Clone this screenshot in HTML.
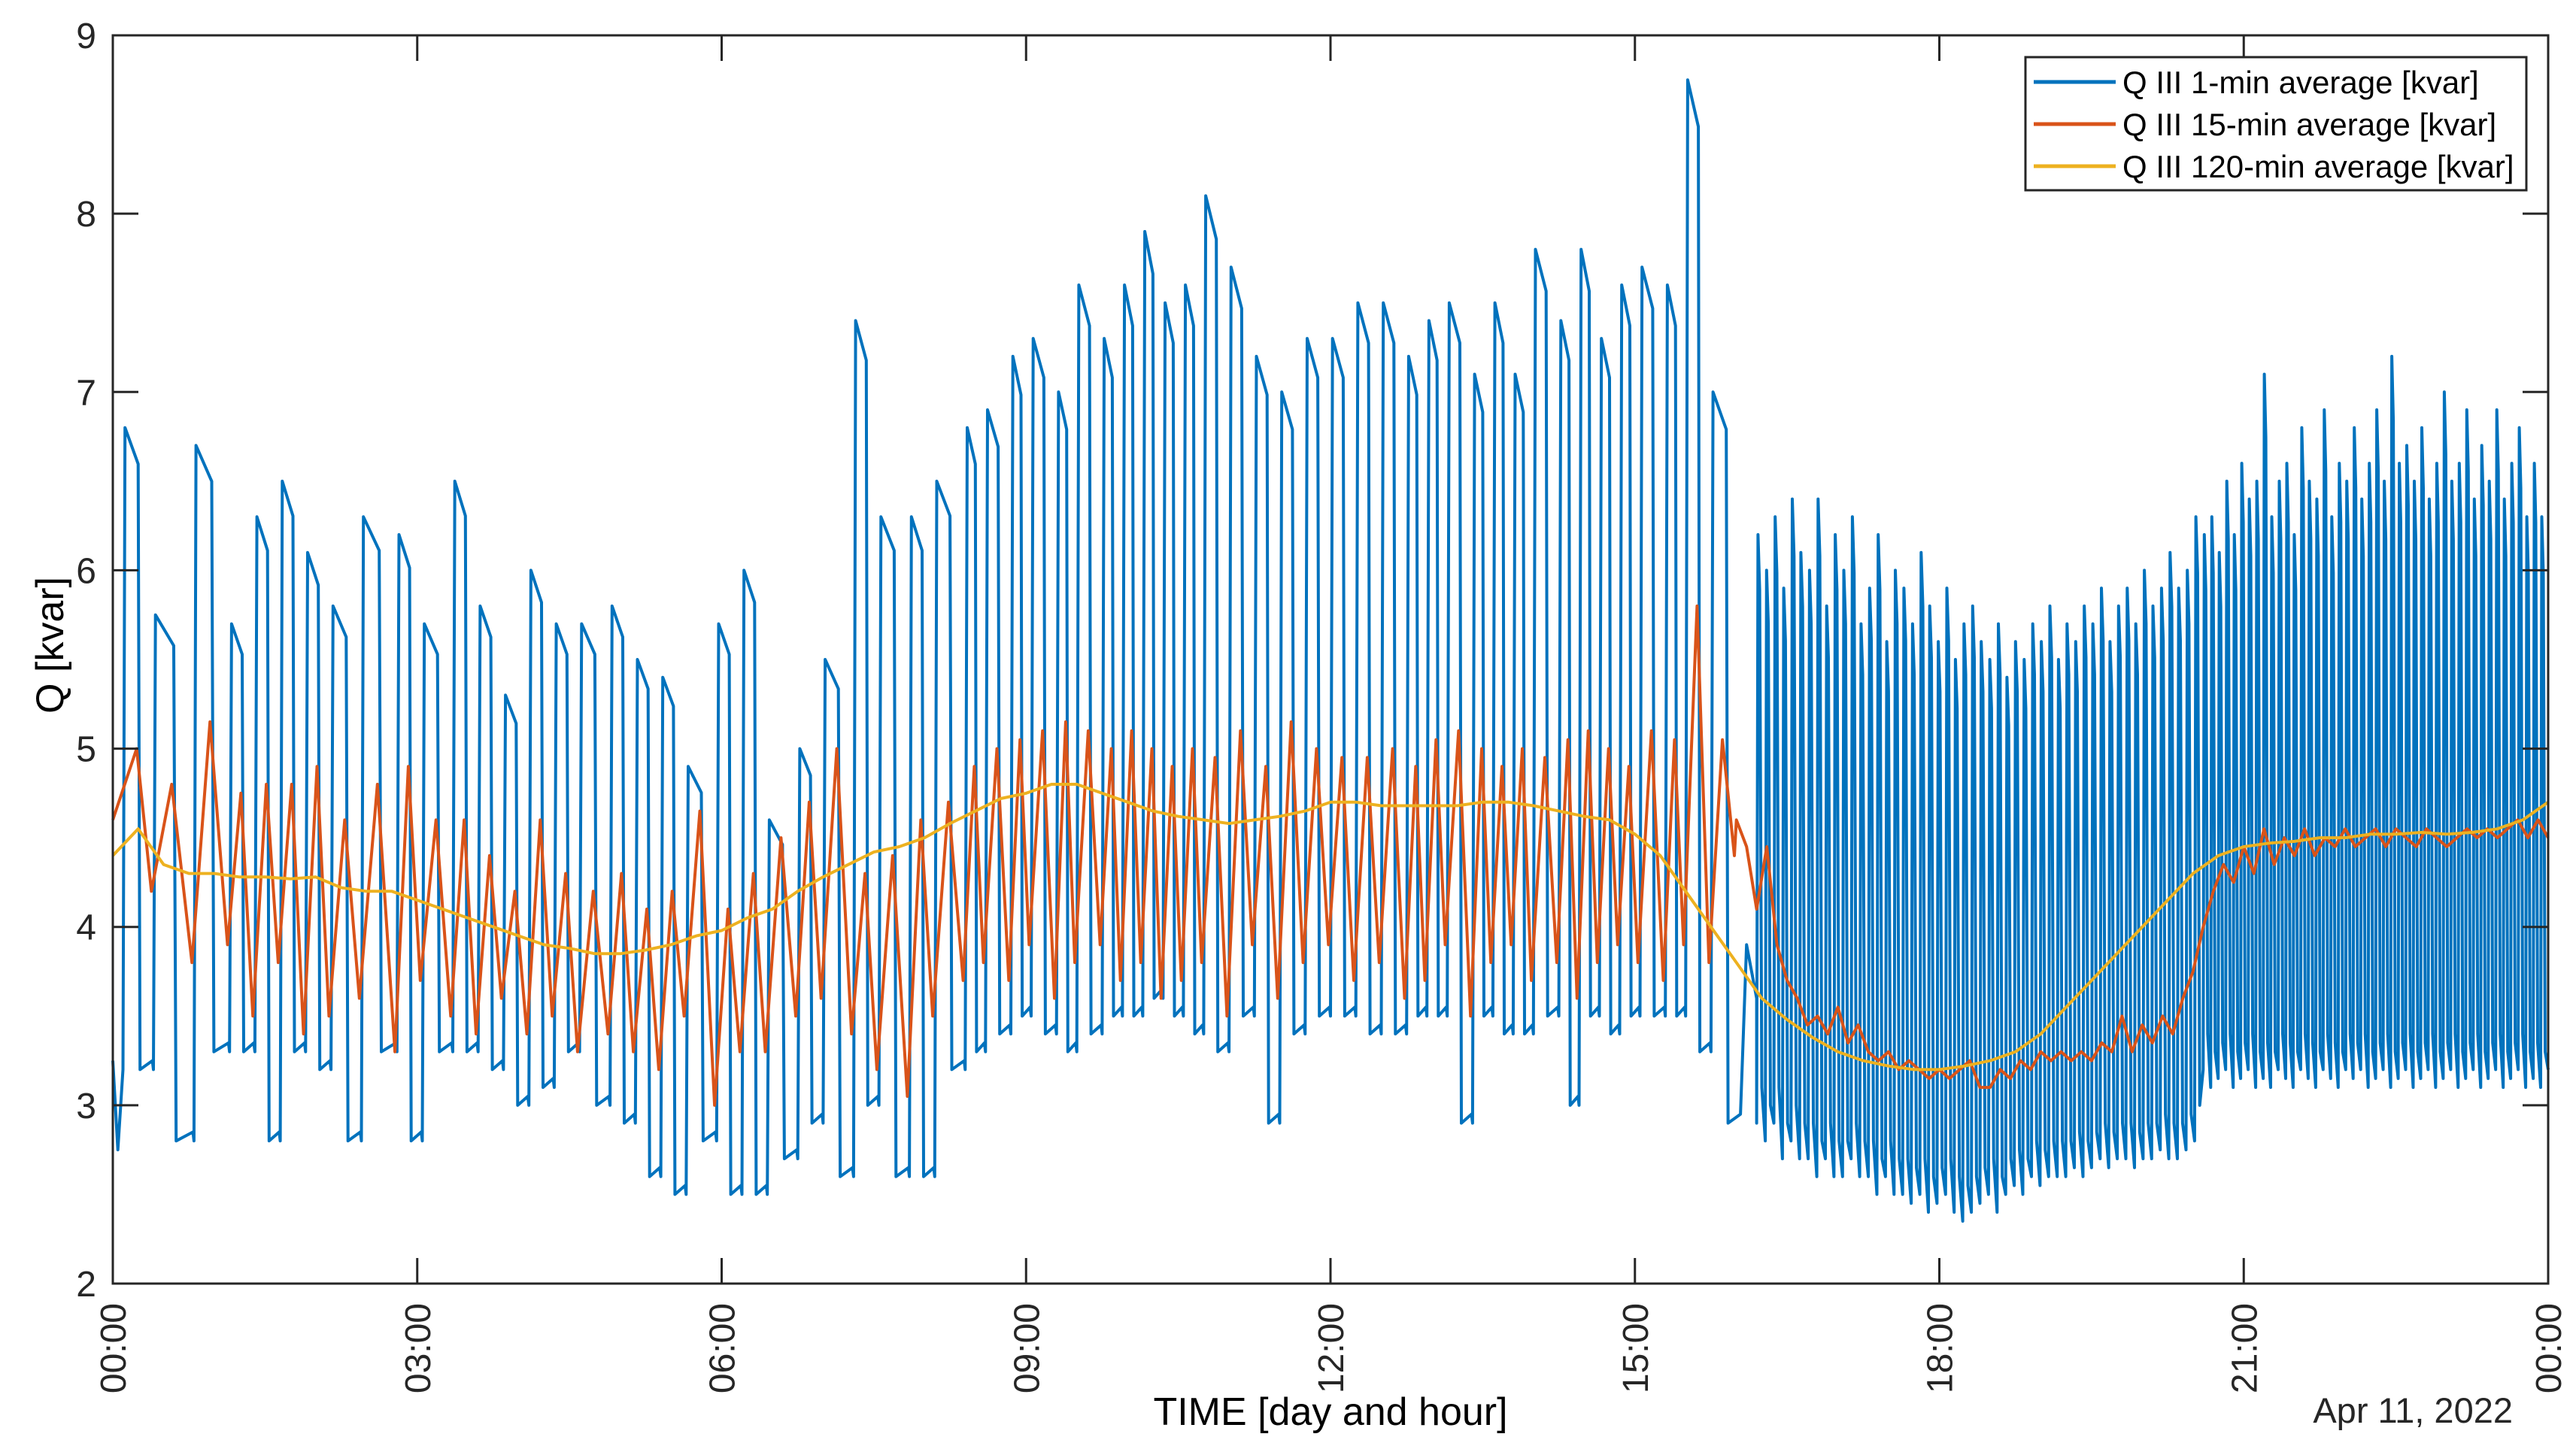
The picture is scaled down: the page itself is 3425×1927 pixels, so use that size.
<!DOCTYPE html>
<html><head><meta charset="utf-8"><style>
html,body{margin:0;padding:0;background:#fff;}
svg{display:block;font-family:"Liberation Sans",Arial,sans-serif;}
</style></head><body>
<svg id="chart" width="3425" height="1927" viewBox="0 0 3425 1927" xmlns="http://www.w3.org/2000/svg">
<rect x="0" y="0" width="3425" height="1927" fill="#fff"/>
<g id="plot"></g>
<g id="axes"></g>
<text x="1769" y="1895" font-size="52" text-anchor="middle" fill="#000">TIME [day and hour]</text>
<text x="3341" y="1892" font-size="47" text-anchor="end" fill="#262626">Apr 11, 2022</text>
<text transform="translate(84,858) rotate(-90)" font-size="52" text-anchor="middle" fill="#000">Q [kvar]</text>
<g>
<rect x="2693" y="76" width="666" height="177" fill="#fff" stroke="#262626" stroke-width="3"/>
<line x1="2704" y1="109" x2="2813" y2="109" stroke="#0072BD" stroke-width="5"/>
<text x="2822" y="124" font-size="42" fill="#000">Q III 1-min average [kvar]</text>
<line x1="2704" y1="165" x2="2813" y2="165" stroke="#D95319" stroke-width="5"/>
<text x="2822" y="180" font-size="42" fill="#000">Q III 15-min average [kvar]</text>
<line x1="2704" y1="221" x2="2813" y2="221" stroke="#EDB120" stroke-width="5"/>
<text x="2822" y="236" font-size="42" fill="#000">Q III 120-min average [kvar]</text>
</g>
</svg>
<script>
// ---- data ----
const xTickLabels = ["00:00","03:00","06:00","09:00","12:00","15:00","18:00","21:00","00:00"];
const yTickLabels = ["2","3","4","5","6","7","8","9"];
// Segment A: slow cycles (hours)
const cycleStart = [0.1,0.4,0.8,1.15,1.4,1.65,1.9,2.15,2.45,2.8,3.05,3.35,3.6,3.85,4.1,4.35,4.6,4.9,5.15,5.4,5.65,5.95,6.2,6.45,6.75,7.0,7.3,7.55,7.85,8.1,8.4,8.6,8.85,9.05,9.3,9.5,9.75,9.95,10.15,10.35,10.55,10.75,11.0,11.25,11.5,11.75,12.0,12.25,12.5,12.75,12.95,13.15,13.4,13.6,13.8,14.0,14.25,14.45,14.65,14.85,15.05,15.3,15.5,15.75];
const cycleHigh = [6.8,5.75,6.7,5.7,6.3,6.5,6.1,5.8,6.3,6.2,5.7,6.5,5.8,5.3,6.0,5.7,5.7,5.8,5.5,5.4,4.9,5.7,6.0,4.6,5.0,5.5,7.4,6.3,6.3,6.5,6.8,6.9,7.2,7.3,7.0,7.6,7.3,7.6,7.9,7.5,7.6,8.1,7.7,7.2,7.0,7.3,7.3,7.5,7.5,7.2,7.4,7.5,7.1,7.5,7.1,7.8,7.4,7.8,7.3,7.6,7.7,7.6,8.75,7.0];
const cycleLow = [3.2,2.8,3.3,3.3,2.8,3.3,3.2,2.8,3.3,2.8,3.3,3.3,3.2,3.0,3.1,3.3,3.0,2.9,2.6,2.5,2.8,2.5,2.5,2.7,2.9,2.6,3.0,2.6,2.6,3.2,3.3,3.4,3.5,3.4,3.3,3.4,3.5,3.5,3.6,3.5,3.4,3.3,3.5,2.9,3.4,3.5,3.5,3.4,3.4,3.5,3.5,2.9,3.5,3.4,3.4,3.5,3.0,3.5,3.4,3.5,3.5,3.5,3.3,2.9];
const orangePeak = [5.0,4.8,5.15,4.75,4.8,4.8,4.9,4.6,4.8,4.9,4.6,4.6,4.4,4.2,4.6,4.3,4.2,4.3,4.1,4.2,4.65,4.1,4.3,4.5,4.7,5.0,4.3,4.4,4.6,4.7,4.9,5.0,5.05,5.1,5.15,5.1,5.0,5.1,5.0,4.9,5.0,4.95,5.1,4.9,5.15,5.0,4.95,4.95,5.0,4.9,5.05,5.1,5.0,4.9,5.0,4.95,5.05,5.1,5.0,4.9,5.1,5.05,5.8,5.05];
const orangeTrough = [4.2,3.8,3.9,3.5,3.8,3.4,3.5,3.6,3.3,3.7,3.5,3.4,3.6,3.4,3.5,3.3,3.4,3.3,3.2,3.5,3.0,3.3,3.3,3.5,3.6,3.4,3.2,3.05,3.5,3.7,3.8,3.7,3.9,3.6,3.8,3.9,3.7,3.8,3.6,3.7,3.8,3.5,3.9,3.6,3.8,3.9,3.7,3.8,3.6,3.7,3.9,3.5,3.8,3.9,3.7,3.8,3.6,3.8,3.9,3.8,3.7,3.9,3.8,4.4];
// Segment B: fast spikes 16.2h-20.6h
const spikeBHigh = [6.2,6.0,6.3,5.9,6.4,6.1,6.0,6.4,5.8,6.2,6.0,6.3,5.7,5.9,6.2,5.6,6.0,5.9,5.7,6.1,5.8,5.6,5.9,5.5,5.7,5.8,5.6,5.5,5.7,5.4,5.6,5.5,5.7,5.6,5.8,5.5,5.7,5.6,5.8,5.7,5.9,5.6,5.8,5.9,5.7,6.0,5.8,5.9,6.1,5.9,6.0,6.3];
const spikeBLow = [2.9,2.8,2.9,2.7,2.8,2.7,2.7,2.6,2.7,2.6,2.6,2.7,2.6,2.6,2.5,2.6,2.5,2.5,2.45,2.5,2.4,2.45,2.5,2.4,2.35,2.4,2.45,2.5,2.4,2.5,2.55,2.5,2.6,2.55,2.6,2.6,2.6,2.65,2.6,2.65,2.7,2.65,2.7,2.7,2.65,2.7,2.7,2.75,2.7,2.7,2.75,2.8];
// Segment C: fast spikes 20.6h-24h
const spikeCHigh = [6.2,6.3,6.1,6.5,6.2,6.6,6.4,6.5,7.1,6.3,6.5,6.6,6.2,6.8,6.5,6.4,6.9,6.3,6.6,6.5,6.8,6.4,6.6,6.9,6.5,7.2,6.6,6.7,6.5,6.8,6.4,6.6,7.0,6.5,6.6,6.9,6.4,6.7,6.5,6.9,6.4,6.6,6.8,6.3,6.6,6.3];
const spikeCLow = [3.2,3.1,3.15,3.2,3.1,3.15,3.2,3.1,3.15,3.1,3.2,3.15,3.1,3.2,3.15,3.1,3.2,3.15,3.1,3.2,3.15,3.2,3.1,3.15,3.2,3.1,3.15,3.2,3.1,3.15,3.2,3.1,3.15,3.2,3.1,3.15,3.2,3.1,3.15,3.2,3.1,3.15,3.2,3.1,3.15,3.1];
// Orange after 16h, every 0.1h
const orangeLateStart = 16.0;
const orangeLate = [4.6,4.45,4.1,4.45,3.9,3.7,3.6,3.45,3.5,3.4,3.55,3.35,3.45,3.3,3.25,3.3,3.2,3.25,3.2,3.15,3.2,3.15,3.2,3.25,3.1,3.1,3.2,3.15,3.25,3.2,3.3,3.25,3.3,3.25,3.3,3.25,3.35,3.3,3.5,3.3,3.45,3.35,3.5,3.4,3.6,3.75,4.0,4.2,4.35,4.25,4.45,4.3,4.55,4.35,4.5,4.4,4.55,4.4,4.5,4.45,4.55,4.45,4.5,4.55,4.45,4.55,4.5,4.45,4.55,4.5,4.45,4.5,4.55,4.5,4.55,4.5,4.55,4.6,4.5,4.6,4.5];
// Yellow 120-min average every 0.25h
const yellowVals = [4.4,4.55,4.35,4.3,4.3,4.28,4.28,4.27,4.28,4.22,4.2,4.2,4.15,4.1,4.05,4.0,3.95,3.9,3.88,3.85,3.85,3.87,3.9,3.95,3.98,4.05,4.1,4.2,4.28,4.35,4.42,4.45,4.5,4.58,4.65,4.72,4.75,4.8,4.8,4.75,4.7,4.65,4.62,4.6,4.58,4.6,4.62,4.65,4.7,4.7,4.68,4.68,4.68,4.68,4.7,4.7,4.68,4.65,4.62,4.6,4.52,4.4,4.2,4.0,3.8,3.6,3.48,3.38,3.3,3.25,3.22,3.2,3.2,3.22,3.25,3.3,3.4,3.55,3.7,3.85,4.0,4.15,4.3,4.4,4.45,4.47,4.48,4.5,4.5,4.52,4.52,4.53,4.52,4.53,4.55,4.6,4.7];

// ---- axes functions ----
const X0=150, X1=3388, Y0=1707, Y1=47;
const xs = h => X0 + (h/24)*(X1-X0);
const ys = v => Y0 - (v-2)/7*(Y0-Y1);
const NS="http://www.w3.org/2000/svg";
const plot=document.getElementById('plot'), axes=document.getElementById('axes');
function mk(tag, attrs, parent){const e=document.createElementNS(NS,tag);for(const k in attrs)e.setAttribute(k,attrs[k]);parent.appendChild(e);return e;}
function pathOf(pts){return pts.map((p,i)=>(i?'L':'M')+xs(p[0]).toFixed(1)+' '+ys(p[1]).toFixed(1)).join('');}

// blue
const blue=[[0,3.25],[0.05,2.75]];
for(let i=0;i<cycleStart.length;i++){
  const s=cycleStart[i], e=(i+1<cycleStart.length)?cycleStart[i+1]:16.05, p=e-s;
  blue.push([s,cycleLow[Math.max(0,i-1)]],[s+0.02,cycleHigh[i]],[s+0.5*p,cycleHigh[i]*0.97],[s+0.56*p,cycleLow[i]],[e-0.01,cycleLow[i]+0.05]);
}
blue.push([16.1,3.9],[16.2,3.6]);
const pB=(20.6-16.2)/spikeBHigh.length;
for(let i=0;i<spikeBHigh.length;i++){const s=16.2+i*pB;blue.push([s,spikeBLow[i]],[s+0.15*pB,spikeBHigh[i]],[s+0.35*pB,spikeBHigh[i]*0.95],[s+0.6*pB,spikeBLow[i]+0.2]);}
const pC=(24-20.6)/spikeCHigh.length;
for(let i=0;i<spikeCHigh.length;i++){const s=20.6+i*pC;blue.push([s,spikeCLow[i]],[s+0.15*pC,spikeCHigh[i]],[s+0.35*pC,spikeCHigh[i]*0.95],[s+0.6*pC,spikeCLow[i]+0.2]);}
blue.push([24,3.2]);
let el=mk('path',{d:pathOf(blue),fill:'none',stroke:'#0072BD','stroke-width':4,'stroke-linejoin':'round'},plot);



// orange
const orange=[[0,4.6]];
for(let i=0;i<cycleStart.length;i++){
  const s=cycleStart[i], e=(i+1<cycleStart.length)?cycleStart[i+1]:16.0, p=e-s;
  orange.push([s+0.45*p,orangePeak[i]],[e-0.02,orangeTrough[i]]);
}
orangeLate.forEach((v,i)=>orange.push([orangeLateStart+i*0.1,v]));
el=mk('path',{d:pathOf(orange),fill:'none',stroke:'#D95319','stroke-width':4,'stroke-linejoin':'round'},plot);



// yellow
const yellow=yellowVals.map((v,i)=>[i*0.25,v]);
el=mk('path',{d:pathOf(yellow),fill:'none',stroke:'#EDB120','stroke-width':4,'stroke-linejoin':'round'},plot);



// axes box
el=mk('rect',{x:X0,y:Y1,width:X1-X0,height:Y0-Y1,fill:'none',stroke:'#262626','stroke-width':3},axes);


xTickLabels.forEach((lab,i)=>{
  const x=xs(i*3);
  el=mk('line',{x1:x,y1:Y0,x2:x,y2:Y0-34,stroke:'#262626','stroke-width':3},axes);
  
  
  mk('line',{x1:x,y1:Y1,x2:x,y2:Y1+34,stroke:'#262626','stroke-width':3},axes);
  const t=mk('text',{transform:`translate(${x+17},${Y0+26}) rotate(-90)`,'font-size':48,'text-anchor':'end',fill:'#262626'},axes);
  t.textContent=lab;
  
  
});
yTickLabels.forEach((lab,i)=>{
  const y=ys(2+i);
  el=mk('line',{x1:X0,y1:y,x2:X0+34,y2:y,stroke:'#262626','stroke-width':3},axes);
  
  
  mk('line',{x1:X1,y1:y,x2:X1-34,y2:y,stroke:'#262626','stroke-width':3},axes);
  const t=mk('text',{x:X0-22,y:y+17,'font-size':48,'text-anchor':'end',fill:'#262626'},axes);
  t.textContent=lab;
  
  
});
</script>
</body></html>
